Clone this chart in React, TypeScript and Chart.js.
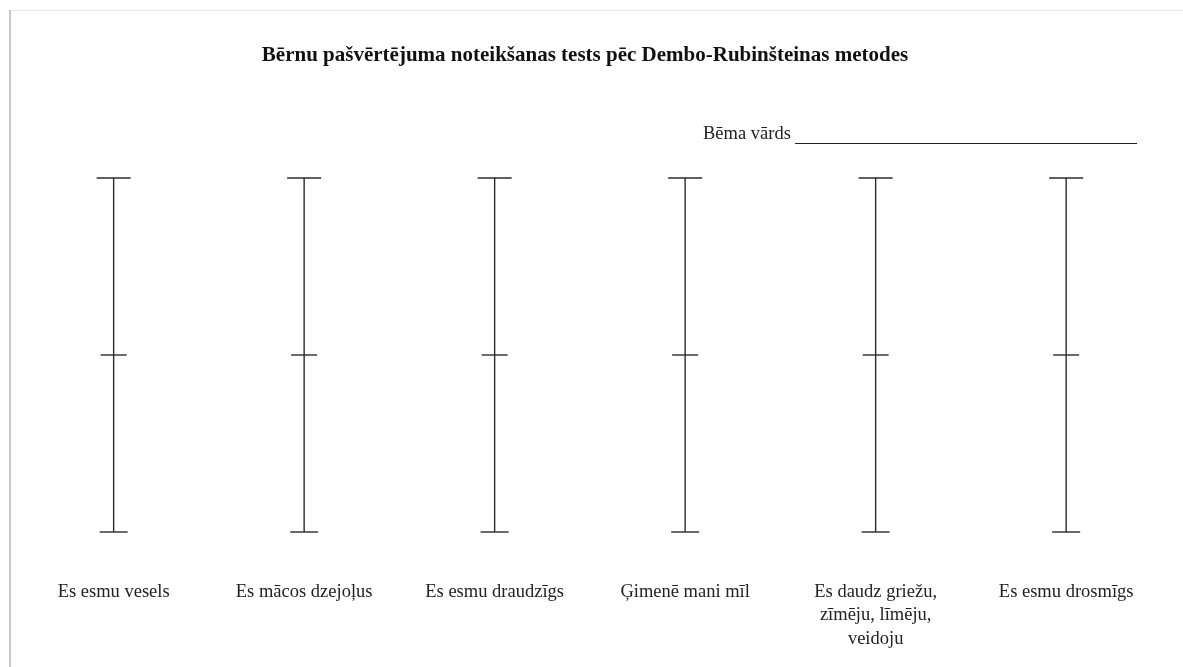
import React, { useEffect, useRef } from "react";
import { Chart, registerables } from "chart.js";

Chart.register(...registerables);

const TITLE = "Bērnu pašvērtējuma noteikšanas tests pēc Dembo-Rubinšteinas metodes";
const NAME_LABEL = "Bēma vārds";
const categories: (string | string[])[] = [
  "Es esmu vesels",
  "Es mācos dzejoļus",
  "Es esmu draudzīgs",
  "Ģimenē mani mīl",
  ["Es daudz griežu,", "zīmēju, līmēju,", "veidoju"],
  "Es esmu drosmīgs",
];
// scale levels: bottom, middle, top
const levels = [0, 5, 10];
const capHalfWidths = [14, 13, 17];

const SERIF = "'Liberation Serif', 'DejaVu Serif', serif";

export default function App() {
  const ref = useRef<HTMLCanvasElement>(null);
  useEffect(() => {
    document.body.style.margin = "0";
    const keys = categories.map((c) => (Array.isArray(c) ? c.join(" ") : c));
    const datasets = keys.map((k) => ({
      label: k,
      data: levels.map((v) => ({ x: k, y: v })),
      borderColor: "#2b2b2b",
      borderWidth: 1.4,
      pointStyle: "line" as const,
      pointRadius: capHalfWidths,
      pointBorderColor: "#2b2b2b",
      pointBorderWidth: 1.4,
      pointHoverRadius: capHalfWidths,
      showLine: true,
      clip: false as const,
      fill: false,
    }));

    const sheet = {
      id: "sheet",
      beforeDraw(chart: any) {
        const { ctx, width, height } = chart;
        ctx.save();
        ctx.fillStyle = "#ffffff";
        ctx.fillRect(0, 0, width, height);
        ctx.strokeStyle = "#e8e8e8";
        ctx.lineWidth = 1;
        ctx.beginPath();
        ctx.moveTo(10, 10.5);
        ctx.lineTo(width, 10.5);
        ctx.stroke();
        ctx.strokeStyle = "#c8c8c8";
        ctx.lineWidth = 2;
        ctx.beginPath();
        ctx.moveTo(10, 10);
        ctx.lineTo(10, height);
        ctx.stroke();
        ctx.restore();
      },
      afterDraw(chart: any) {
        const { ctx } = chart;
        ctx.save();
        ctx.fillStyle = "#111";
        ctx.textBaseline = "middle";
        ctx.textAlign = "center";
        ctx.font = `bold 21px ${SERIF}`;
        ctx.fillText(TITLE, 585, 56);
        ctx.textAlign = "left";
        ctx.font = `18.5px ${SERIF}`;
        ctx.fillStyle = "#222";
        ctx.fillText(NAME_LABEL, 703, 134);
        ctx.strokeStyle = "#222";
        ctx.lineWidth = 1.2;
        ctx.beginPath();
        ctx.moveTo(795, 143.5);
        ctx.lineTo(1137, 143.5);
        ctx.stroke();
        ctx.restore();
      },
    };

    const chart = new Chart(ref.current!, {
      type: "line",
      data: { labels: keys, datasets },
      options: {
        responsive: false,
        animation: false,
        events: [],
        layout: { padding: { top: 178, bottom: 15, left: 12, right: 14 } },
        plugins: { legend: { display: false }, tooltip: { enabled: false }, title: { display: false } },
        scales: {
          x: {
            type: "category",
            offset: true,
            grid: { display: false, drawTicks: false },
            border: { display: false },
            afterFit: (scale: any) => {
              scale.height = 120;
            },
            ticks: {
              padding: 48,
              color: "#222",
              maxRotation: 0,
              autoSkip: false,
              font: { family: SERIF, size: 18.5, lineHeight: 1.27 },
              callback: (_v: any, i: number) => categories[i],
            },
          },
          y: {
            min: 0,
            max: 10,
            display: false,
          },
        },
      },
      plugins: [sheet],
    });
    return () => chart.destroy();
  }, []);
  return (
    <canvas
      ref={ref}
      width={1183}
      height={667}
      style={{ display: "block", width: 1183, height: 667 }}
    />
  );
}
